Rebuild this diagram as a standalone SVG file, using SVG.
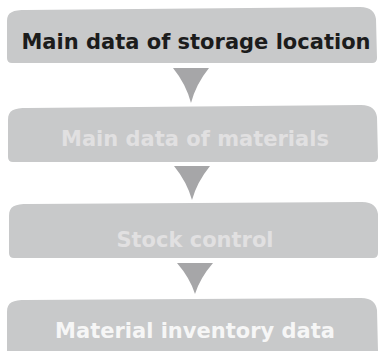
<svg xmlns="http://www.w3.org/2000/svg" width="380" height="351" viewBox="0 0 380 351">
<style>
.box{fill:#c8c9ca}
.arr{fill:#a6a6a8}
text{font-family:"DejaVu Sans","Verdana",sans-serif;font-weight:bold;font-size:21px;text-anchor:middle}
.t1{fill:#1c1c1c}
.t2{fill:#e1e0e1}
.t4{fill:#f6f6f6}
</style>
<rect width="380" height="351" fill="#ffffff"/>
<g id="connectors">
<path class="arr" d="M173,68 L209,68 Q196,84 191,103 Q186,84 173,68 Z"/>
<path class="arr" d="M174,166 L210,166 Q197,182 192,200 Q187,182 174,166 Z"/>
<path class="arr" d="M177,263 L213,263 Q200,278 195,294 Q190,278 177,263 Z"/>
</g>
<g id="node1">
<path class="box" d="M7,21 C7,12 13,10 26,10 L360,7 C371,7 375,12 376,19 L377,58 Q377,63 372,63 L12,63 Q7,63 7,58 Z"/>
<text class="t1" x="196" y="49">Main data of storage location</text>
</g>
<g id="node2">
<path class="box" d="M8,120 C8,110 14,108 27,108 L361,105 C372,105 376,110 377,117 L378,157 Q378,162 373,162 L13,162 Q8,162 8,157 Z"/>
<text class="t2" x="195" y="146">Main data of materials</text>
</g>
<g id="node3">
<path class="box" d="M9,216 C9,206 15,204 28,204 L362,202 C373,202 377,207 378,214 L378,253 Q378,258 373,258 L14,258 Q9,258 9,253 Z"/>
<text class="t2" x="195" y="246.5">Stock control</text>
</g>
<g id="node4">
<path class="box" d="M7,312 C7,302 13,300 26,300 L361,298 C372,298 376,303 377,310 L378,351 L7,351 Z"/>
<text class="t4" x="195" y="337.5">Material inventory data</text>
</g>
</svg>
